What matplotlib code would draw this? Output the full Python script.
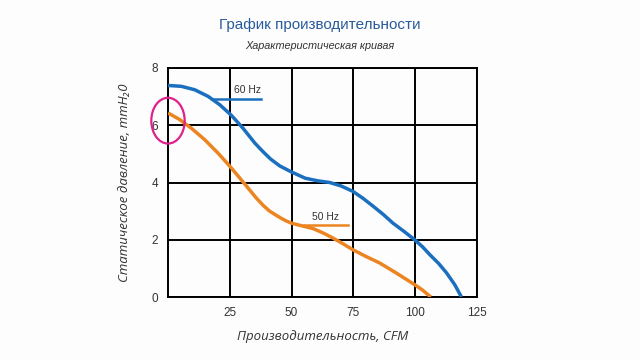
import matplotlib
matplotlib.use("Agg")
import matplotlib.pyplot as plt
from matplotlib.patches import Ellipse

# Data
flow_60 = [0, 5.4, 10.8, 16.2, 20.9, 25.6, 30.3, 35.1, 38.4, 41.5, 45.2, 49.9, 55.5, 60.5, 65.4, 70, 74.8, 79, 83, 87, 91, 95.5, 99.8, 103, 105.9, 109.5, 112.7, 116, 118.7]
press_60 = [7.39, 7.36, 7.24, 7.01, 6.72, 6.35, 5.90, 5.38, 5.08, 4.82, 4.58, 4.37, 4.15, 4.06, 4.00, 3.88, 3.69, 3.44, 3.17, 2.89, 2.58, 2.29, 2.00, 1.75, 1.48, 1.17, 0.84, 0.43, 0.0]
flow_50 = [0, 4.7, 9.4, 14.8, 20.2, 25, 29, 31, 35.7, 38.5, 41.1, 43.5, 45.2, 47.5, 49.9, 54, 58.7, 62.7, 66.7, 70.8, 74.8, 80, 85.6, 92.5, 99.8, 103, 106.3]
press_50 = [6.43, 6.20, 5.90, 5.50, 5.03, 4.57, 4.16, 3.95, 3.46, 3.20, 3.00, 2.87, 2.78, 2.67, 2.58, 2.49, 2.39, 2.24, 2.06, 1.86, 1.65, 1.42, 1.19, 0.83, 0.43, 0.24, 0.0]
x_ticks = [25, 50, 75, 100, 125]
y_ticks = [0, 2, 4, 6, 8]
labels = ["60 Hz", "50 Hz"]

blue = "#1a6fbf"
orange = "#ec8521"
bg = "#fdfdfd"

fig = plt.figure(figsize=(6.4, 3.6), dpi=100, facecolor=bg)
ax = fig.add_axes([168/640, 63/360, 309/640, 229/360])
ax.set_facecolor(bg)

ax.plot(flow_60, press_60, color=blue, lw=2.5, solid_joinstyle="round", solid_capstyle="butt", zorder=3)
ax.plot(flow_50, press_50, color=orange, lw=2.5, solid_joinstyle="round", solid_capstyle="butt", zorder=3)

# label leaders
ax.plot([18.3, 37.5], [6.92, 6.92], color=blue, lw=1.8, zorder=3)
ax.text(32, 7.22, labels[0], fontsize=7.5, family="Liberation Sans", color="#333333", ha="center", va="center")
ax.plot([55, 72.8], [2.53, 2.53], color=orange, lw=1.8, zorder=2.5)
ax.text(63.8, 2.80, labels[1], fontsize=7.5, family="Liberation Sans", color="#333333", ha="center", va="center")

ax.add_patch(Ellipse((0, 6.16), 13.5, 1.6, fill=False, edgecolor="#e0218a", lw=1.6, clip_on=False, zorder=4))

ax.set_xlim(0, 125)
ax.set_ylim(0, 8)
ax.set_xticks(x_ticks)
ax.set_yticks(y_ticks)
ax.grid(True, color="black", lw=1.4)
ax.set_axisbelow(True)
for s in ax.spines.values():
    s.set_color("black")
    s.set_linewidth(1.4)
ax.tick_params(length=0, pad=7, labelsize=8.5, labelcolor="#333333")
for t in ax.get_xticklabels() + ax.get_yticklabels():
    t.set_family("Liberation Sans")

ax.set_xlabel("Производительность, CFM", fontsize=9.5, style="italic", family="Open Sans", color="#333333", labelpad=8)
ax.set_ylabel("Статическое давление, mmH₂0", fontsize=9.5, style="italic", family="Open Sans", color="#333333", labelpad=15)

fig.text(0.5, 1 - 25/360, "График производительности", ha="center", va="center", fontsize=11, color="#2a5b9c", family="Liberation Sans")
fig.text(0.5, 1 - 46/360, "Характеристическая кривая", ha="center", va="center", fontsize=7.8, style="italic", color="#333333", family="Liberation Sans")

fig.savefig("out.png", dpi=100, facecolor=fig.get_facecolor())
